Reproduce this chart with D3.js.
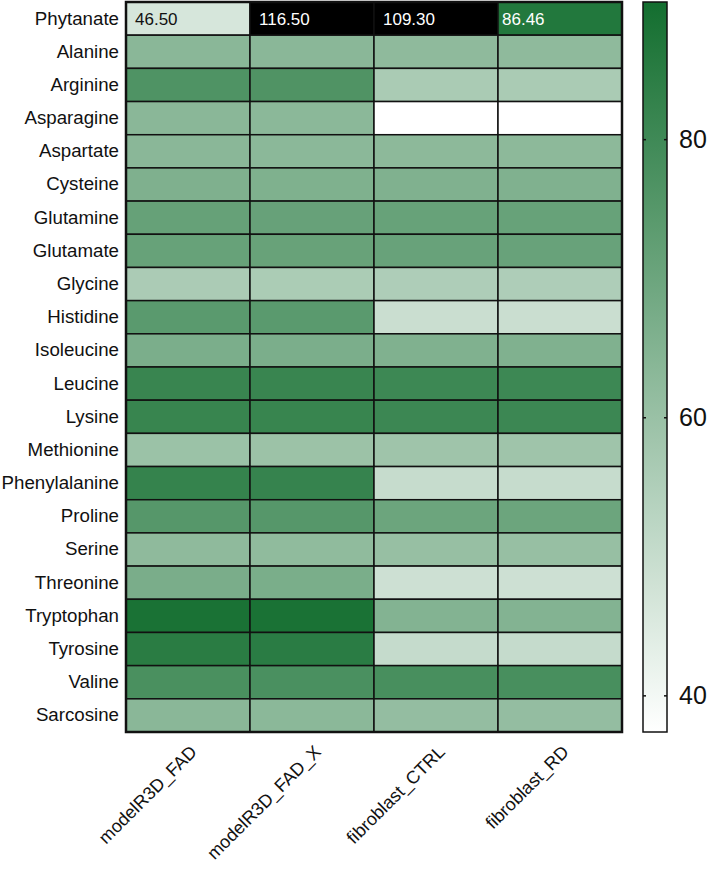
<!DOCTYPE html>
<html>
<head>
<meta charset="utf-8">
<script src="https://cdn.jsdelivr.net/npm/d3@7"></script>
<style>
  html, body { margin: 0; padding: 0; background: #fff; }
  svg { display: block; font-family: "Liberation Sans", Arial, Helvetica, sans-serif; }
</style>
</head>
<body>
<svg id="chart" width="709" height="870"></svg>
<script>
const rows = ["Phytanate","Alanine","Arginine","Asparagine","Aspartate","Cysteine","Glutamine","Glutamate","Glycine","Histidine","Isoleucine","Leucine","Lysine","Methionine","Phenylalanine","Proline","Serine","Threonine","Tryptophan","Tyrosine","Valine","Sarcosine"];
const columns = ["modelR3D_FAD","modelR3D_FAD_X","fibroblast_CTRL","fibroblast_RD"];

const modelR3D_FAD    = [46.50,63.4,76.6,63.4,63.4,65.9,71.4,71.2,56.1,74.1,66.8,81.5,81.7,59.6,82.3,75.0,62.3,67.0,88.3,84.8,77.7,63.4];
const modelR3D_FAD_X  = [116.50,63.4,76.4,63.2,63.2,65.8,71.3,71.1,56.0,74.0,66.7,81.5,81.7,59.5,82.2,74.9,62.2,66.9,88.4,84.7,77.6,63.2];
const fibroblast_CTRL = [109.30,62.3,56.3,37.4,62.8,65.7,71.2,71.0,55.4,49.2,65.7,80.6,80.8,58.8,50.1,70.1,60.5,48.5,65.0,50.3,78.1,61.2];
const fibroblast_RD   = [86.46,62.3,56.3,37.4,62.8,65.7,71.2,71.0,55.4,49.2,65.7,80.6,80.8,58.8,50.1,70.1,60.5,48.5,65.0,50.3,78.1,61.2];
const seriesValues = [modelR3D_FAD, modelR3D_FAD_X, fibroblast_CTRL, fibroblast_RD];

// Values labelled in cells (first row)
const labelledRow = "Phytanate";
const labelTexts = ["46.50","116.50","109.30","86.46"];

const colorMin = 37.4, colorMax = 89.9;
const colorTicks = [40, 60, 80];

const cells = [];
rows.forEach((r, i) => columns.forEach((c, j) => cells.push({row: r, col: c, value: seriesValues[j][i], j})));

const svg = d3.select("#chart");
const gLeft = 126, gRight = 622, gTop = 2, gBottom = 732;

const x = d3.scaleBand().domain(columns).range([gLeft, gRight]);
const y = d3.scaleBand().domain(rows).range([gTop, gBottom]);
const color = d3.scaleLinear().domain([colorMin, colorMax]).range(["#ffffff", "#136e2f"]).clamp(true);
const fill = v => v > colorMax ? "#000000" : color(v);

svg.append("g").selectAll("rect").data(cells).join("rect")
  .attr("x", d => x(d.col)).attr("y", d => y(d.row))
  .attr("width", x.bandwidth()).attr("height", y.bandwidth())
  .attr("fill", d => fill(d.value))
  .attr("stroke", "#111").attr("stroke-width", 1.5);

svg.append("rect").attr("x", gLeft).attr("y", gTop).attr("width", gRight - gLeft).attr("height", gBottom - gTop)
  .attr("fill", "none").attr("stroke", "#111").attr("stroke-width", 2.5);

// in-cell labels
svg.append("g").selectAll("text").data(cells.filter(d => d.row === labelledRow)).join("text")
  .attr("x", d => x(d.col) + (d.j === 3 ? 4 : 9))
  .attr("y", d => y(d.row) + y.bandwidth() / 2 + 6)
  .attr("font-size", 17)
  .attr("fill", d => d.value > 75 ? "#ffffff" : "#111")
  .text(d => labelTexts[d.j]);

// row labels
const yAxis = d3.axisLeft(y).tickSize(0).tickPadding(7);
const gy = svg.append("g").attr("transform", `translate(${gLeft},0)`).call(yAxis);
gy.select(".domain").remove();
gy.selectAll("text").attr("font-size", 18.7).attr("fill", "#111").attr("font-family", null);

// column labels
const xAxis = d3.axisBottom(x).tickSize(0).tickPadding(0);
const gx = svg.append("g").attr("transform", `translate(0,${gBottom})`).call(xAxis);
gx.select(".domain").remove();
gx.selectAll("text").attr("font-size", 18).attr("fill", "#111").attr("font-family", null)
  .attr("text-anchor", "end").attr("dy", null).attr("y", 0)
  .attr("transform", "translate(10,21) rotate(-45)");

// colour bar
const cbX = 643, cbW = 24;
const cy = d3.scaleLinear().domain([colorMin, colorMax]).range([gBottom, gTop]);
const defs = svg.append("defs");
const grad = defs.append("linearGradient").attr("id", "cbgrad").attr("x1", 0).attr("y1", 1).attr("x2", 0).attr("y2", 0);
d3.range(0, 1.0001, 0.1).forEach(t => {
  grad.append("stop").attr("offset", t).attr("stop-color", color(colorMin + t * (colorMax - colorMin)));
});
svg.append("rect").attr("x", cbX).attr("y", gTop).attr("width", cbW).attr("height", gBottom - gTop)
  .attr("fill", "url(#cbgrad)").attr("stroke", "#111").attr("stroke-width", 1.5);

const cbAxis = d3.axisRight(cy).tickValues(colorTicks).tickSize(0).tickPadding(12);
const gcb = svg.append("g").attr("transform", `translate(${cbX + cbW},0)`).call(cbAxis);
gcb.select(".domain").remove();
gcb.selectAll("text").attr("font-size", 25).attr("fill", "#111").attr("font-family", null);
svg.append("g").selectAll("line").data(colorTicks).join("line")
  .attr("x1", cbX).attr("x2", cbX + 3).attr("y1", d => cy(d)).attr("y2", d => cy(d))
  .attr("stroke", "#111").attr("stroke-width", 1.5);
svg.append("g").selectAll("line").data(colorTicks).join("line")
  .attr("x1", cbX + cbW - 3).attr("x2", cbX + cbW).attr("y1", d => cy(d)).attr("y2", d => cy(d))
  .attr("stroke", "#111").attr("stroke-width", 1.5);
</script>
</body>
</html>
